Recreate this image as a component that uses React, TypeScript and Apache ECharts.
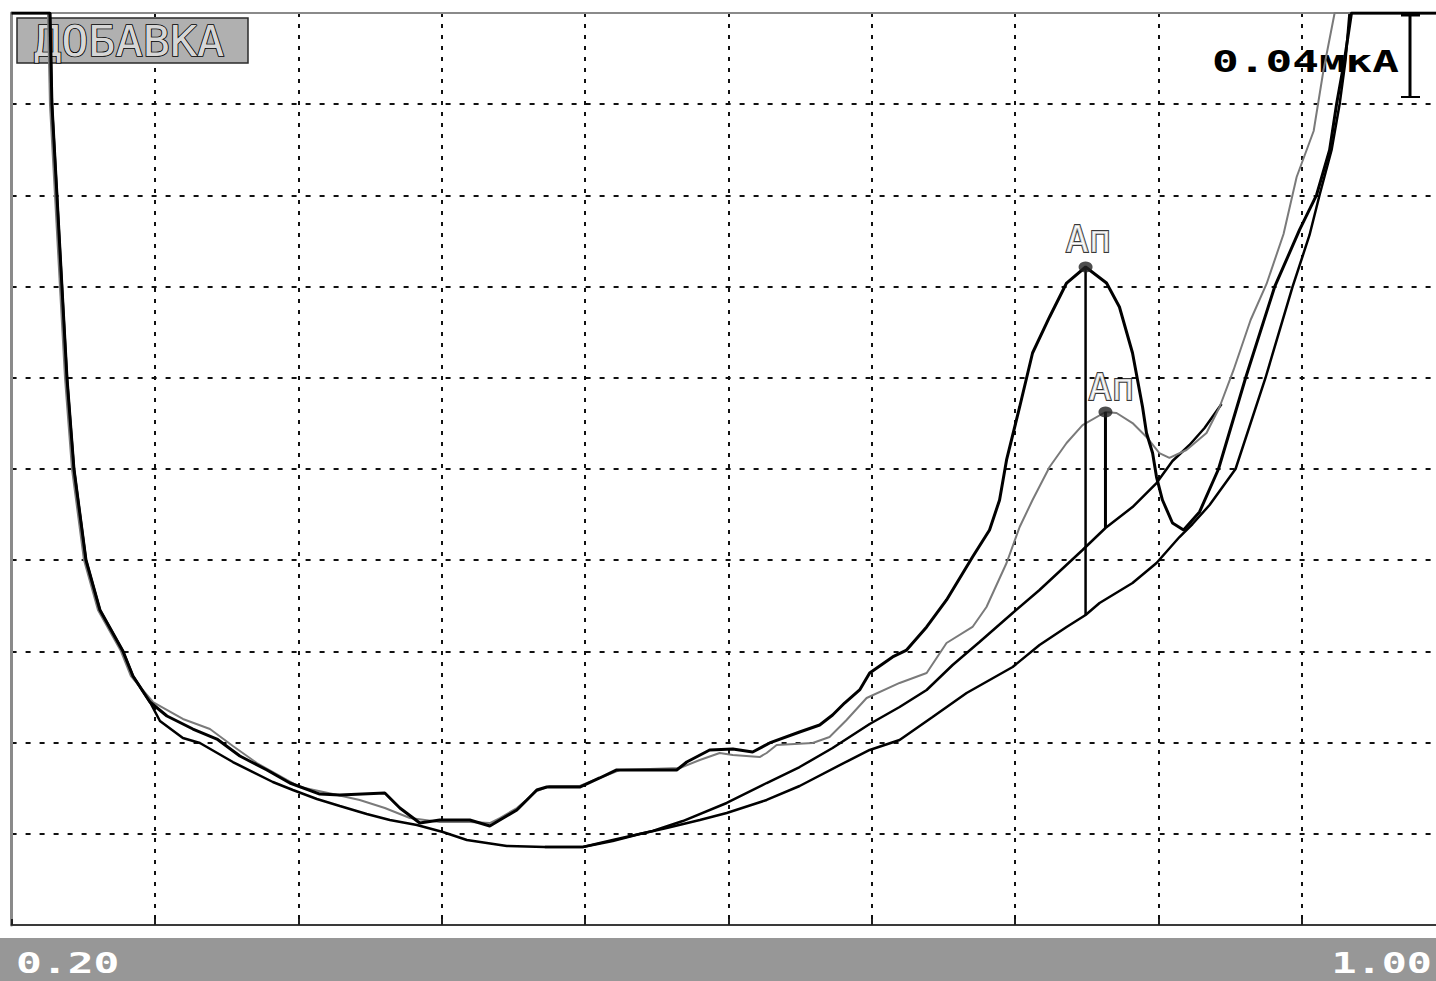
import React, { useEffect, useRef } from "react";
import * as echarts from "echarts";

// Potential axis (V) and current in grid divisions
const xRange = [0.2, 1.0];
const xTickLabels = ["0.20", "1.00"];
const scaleLabel = "0.04мкА";
const boxLabel = "ДОБАВКА";
const peakLabel = "Ап";

const curveA: [number, number][] = [
  [0.2, 10.0], [0.2214, 10.0], [0.2225, 9.002], [0.2253, 8.004], [0.2281, 6.996], [0.2309, 5.998],
  [0.2348, 5.0], [0.2415, 4.002], [0.2493, 3.454], [0.2621, 3.004], [0.2677, 2.73], [0.2772, 2.445],
  [0.2867, 2.292], [0.3012, 2.149], [0.3146, 2.039], [0.3274, 1.853], [0.3425, 1.7], [0.3553, 1.557],
  [0.372, 1.436], [0.3832, 1.425], [0.4083, 1.447], [0.4167, 1.283], [0.4278, 1.118], [0.439, 1.151],
  [0.4557, 1.151], [0.4669, 1.086], [0.4725, 1.151], [0.482, 1.261], [0.4876, 1.371], [0.4931, 1.48],
  [0.4987, 1.513], [0.5171, 1.513], [0.5282, 1.612], [0.5377, 1.7], [0.5712, 1.7], [0.5768, 1.787],
  [0.5896, 1.919], [0.6025, 1.93], [0.6136, 1.897], [0.6231, 1.996], [0.6398, 2.116], [0.651, 2.193],
  [0.6582, 2.303], [0.6649, 2.434], [0.6733, 2.577], [0.6789, 2.763], [0.6917, 2.939], [0.6995, 3.015],
  [0.7107, 3.268], [0.7218, 3.564], [0.7363, 4.035], [0.7458, 4.331], [0.7514, 4.66], [0.7553, 5.099],
  [0.7626, 5.68], [0.7698, 6.272], [0.7793, 6.667], [0.7888, 7.039], [0.7994, 7.215], [0.8111, 7.039],
  [0.8183, 6.776], [0.8256, 6.272], [0.8312, 5.68], [0.8334, 5.395], [0.8368, 5.175], [0.839, 4.912],
  [0.8423, 4.66], [0.8479, 4.408], [0.8541, 4.331], [0.863, 4.529], [0.8736, 5.0], [0.8887, 5.998],
  [0.9049, 6.996], [0.9188, 7.621], [0.9283, 8.004], [0.9356, 8.498], [0.9395, 9.002], [0.9439, 9.485],
  [0.9478, 10.0], [1.0, 10.0],
];

const curveB: [number, number][] = [
  [0.2, 10.0], [0.2203, 10.0], [0.2214, 9.002], [0.2242, 8.004], [0.227, 6.996], [0.2298, 5.998],
  [0.2337, 5.0], [0.2404, 4.002], [0.2482, 3.454], [0.261, 3.004], [0.2666, 2.73], [0.2789, 2.445],
  [0.2956, 2.259], [0.3107, 2.149], [0.3235, 1.963], [0.3369, 1.776], [0.3536, 1.59], [0.3609, 1.513],
  [0.3793, 1.436], [0.3943, 1.371], [0.4083, 1.283], [0.4223, 1.173], [0.439, 1.129], [0.4557, 1.129],
  [0.4669, 1.118], [0.4725, 1.173], [0.482, 1.283], [0.4931, 1.469], [0.5003, 1.524], [0.5171, 1.524],
  [0.5282, 1.612], [0.5394, 1.7], [0.5729, 1.721], [0.5841, 1.809], [0.5952, 1.886], [0.6025, 1.864],
  [0.6175, 1.842], [0.6214, 1.886], [0.627, 1.974], [0.6471, 1.996], [0.6565, 2.061], [0.666, 2.248],
  [0.6772, 2.489], [0.6956, 2.654], [0.7107, 2.763], [0.7218, 3.092], [0.7363, 3.268], [0.7441, 3.487],
  [0.7553, 3.969], [0.7626, 4.364], [0.7698, 4.66], [0.7793, 5.022], [0.7888, 5.285], [0.7977, 5.482],
  [0.8105, 5.625], [0.8167, 5.614], [0.8256, 5.504], [0.8334, 5.351], [0.8406, 5.175], [0.8462, 5.121],
  [0.8557, 5.208], [0.8669, 5.395], [0.8742, 5.68], [0.882, 6.086], [0.8915, 6.634], [0.9004, 7.029],
  [0.9099, 7.577], [0.9172, 8.202], [0.9267, 8.706], [0.9322, 9.375], [0.9384, 10.0], [1.0, 10.0],
];

const baseC: [number, number][] = [
  [0.4976, 0.855], [0.5188, 0.855], [0.5355, 0.932], [0.5578, 1.031], [0.5746, 1.14], [0.5991, 1.338],
  [0.6214, 1.557], [0.6398, 1.732], [0.6582, 1.941], [0.6789, 2.204], [0.6956, 2.39], [0.7107, 2.577],
  [0.7252, 2.851], [0.7402, 3.103], [0.7587, 3.421], [0.7737, 3.673], [0.7977, 4.112], [0.8105, 4.353],
  [0.8256, 4.583], [0.839, 4.846], [0.8479, 5.088], [0.8574, 5.263], [0.8658, 5.45], [0.8753, 5.713],
];

const baseD: [number, number][] = [
  [0.2, 10.0], [0.2214, 10.0], [0.2225, 9.002], [0.2253, 8.004], [0.2281, 6.996], [0.2309, 5.998],
  [0.2348, 5.0], [0.2415, 4.002], [0.2493, 3.454], [0.2621, 3.004], [0.2677, 2.73], [0.2772, 2.445],
  [0.2828, 2.237], [0.2956, 2.05], [0.3051, 1.996], [0.3235, 1.787], [0.3458, 1.568], [0.357, 1.48],
  [0.3704, 1.382], [0.3832, 1.305], [0.3982, 1.217], [0.4111, 1.151], [0.4262, 1.096], [0.4407, 1.02],
  [0.4541, 0.932], [0.4764, 0.866], [0.4976, 0.855], [0.5188, 0.855], [0.5355, 0.921], [0.5506, 0.998],
  [0.5656, 1.064], [0.5841, 1.151], [0.5991, 1.228], [0.6214, 1.371], [0.6398, 1.524], [0.6677, 1.809],
  [0.6789, 1.919], [0.6956, 2.029], [0.714, 2.281], [0.733, 2.544], [0.7587, 2.829], [0.7737, 3.07],
  [0.7888, 3.268], [0.7994, 3.399], [0.8072, 3.531], [0.8256, 3.75], [0.839, 3.969], [0.8518, 4.254],
  [0.8591, 4.397], [0.8686, 4.605], [0.8831, 5.0], [0.8998, 5.998], [0.9149, 6.996], [0.9244, 7.566],
  [0.93, 8.004], [0.9367, 8.498], [0.9412, 9.002], [0.9445, 9.485], [0.9467, 10.0], [1.0, 10.0],
];

const peakA: [number, number] = [0.7994, 7.215];
const peakAFoot = 3.399;
const peakB: [number, number] = [0.8105, 5.625];
const peakBFoot = 4.353;

const MONO = "'DejaVu Sans Mono', monospace";

export default function App() {
  const ref = useRef<HTMLDivElement>(null);
  useEffect(() => {
    if (!ref.current) return;
    const chart = echarts.init(ref.current, null, { renderer: "svg" });
    const option: any = {
      animation: false,
      backgroundColor: "#ffffff",
      grid: { left: 11.6, top: 13, width: 1433.4, height: 912, containLabel: false },
      xAxis: [
        {
          type: "value", min: xRange[0], max: xRange[1], position: "top",
          axisLine: { show: true, onZero: false, lineStyle: { color: "#8a8a8a", width: 2 } },
          axisTick: { show: false }, axisLabel: { show: false }, splitLine: { show: false },
        },
        {
          type: "value", min: 0, max: 10, interval: 1, position: "bottom",
          axisLine: { show: true, onZero: false, lineStyle: { color: "#3a3a3a", width: 2 } },
          axisTick: { show: true, inside: true, length: 6, lineStyle: { color: "#222", width: 2 } },
          axisLabel: { show: false },
          splitLine: { show: true, showMinLine: false, showMaxLine: false, lineStyle: { color: "#111", width: 2, type: [4, 7] } },
        },
      ],
      yAxis: [
        {
          type: "value", min: 0, max: 10, interval: 1,
          axisLine: { show: true, onZero: false, lineStyle: { color: "#8a8a8a", width: 3 } },
          axisTick: { show: false }, axisLabel: { show: false },
          splitLine: { show: true, showMinLine: false, showMaxLine: false, lineStyle: { color: "#111", width: 2, type: [5, 9] } },
        },
      ],
      series: [
        { type: "line", z: 3, xAxisIndex: 0, data: baseD, showSymbol: false, lineStyle: { color: "#000", width: 2.5 } },
        { type: "line", z: 3, xAxisIndex: 0, data: baseC, showSymbol: false, lineStyle: { color: "#000", width: 2.5 } },
        { type: "line", z: 4, xAxisIndex: 0, data: curveB, showSymbol: false, lineStyle: { color: "#7a7a7a", width: 2 } },
        { type: "line", z: 5, xAxisIndex: 0, data: curveA, showSymbol: false, lineStyle: { color: "#000", width: 3 } },
        { type: "line", z: 5, xAxisIndex: 0, data: [[peakA[0], peakA[1]], [peakA[0], peakAFoot]], showSymbol: false, lineStyle: { color: "#000", width: 2.5 } },
        { type: "line", z: 5, xAxisIndex: 0, data: [[peakB[0], peakB[1]], [peakB[0], peakBFoot]], showSymbol: false, lineStyle: { color: "#000", width: 3 } },
        {
          type: "scatter", z: 6, xAxisIndex: 0, symbol: "circle", symbolSize: [14, 11],
          itemStyle: { color: "#222" },
          data: [
            { value: peakA, label: { show: true, formatter: peakLabel, position: "top", distance: 3, offset: [3, 0] } },
            { value: peakB, label: { show: true, formatter: peakLabel, position: "top", distance: 1, offset: [6, 0] } },
          ],
          label: {
            fontFamily: MONO, fontSize: 38, color: "#ffffff",
            textBorderColor: "#000", textBorderWidth: 2,
          },
        },
      ],
      graphic: [
        {
          type: "rect", z: 1, shape: { x: 17, y: 18, width: 231, height: 45 },
          style: { fill: "#b0b0b0", stroke: "#2a2a2a", lineWidth: 1.5 },
        },
        {
          type: "text", z: 2, x: 34, y: 41, scaleX: 1.05,
          style: {
            text: boxLabel, font: `normal 43px ${MONO}`, fill: "#d6d6d6", stroke: "#000", lineWidth: 1.6,
            textAlign: "left", textVerticalAlign: "middle",
          },
        },
        {
          type: "text", z: 2, x: 1212, y: 62, scaleX: 1.48,
          style: {
            text: scaleLabel, font: `bold 30px ${MONO}`, fill: "#000",
            textAlign: "left", textVerticalAlign: "middle",
          },
        },
        { type: "line", z: 7, shape: { x1: 1410, y1: 15, x2: 1410, y2: 97 }, style: { stroke: "#000", lineWidth: 3 } },
        { type: "line", z: 7, shape: { x1: 1401, y1: 15, x2: 1420, y2: 15 }, style: { stroke: "#000", lineWidth: 3 } },
        { type: "line", z: 7, shape: { x1: 1401, y1: 97, x2: 1420, y2: 97 }, style: { stroke: "#000", lineWidth: 2 } },
        {
          type: "rect", z: 1, shape: { x: 0, y: 938, width: 1460, height: 43 },
          style: { fill: "#979797" },
        },
        {
          type: "text", z: 2, x: 16, y: 963, scaleX: 1.48,
          style: {
            text: xTickLabels[0], font: `bold 29px ${MONO}`, fill: "#ffffff",
            textAlign: "left", textVerticalAlign: "middle",
          },
        },
        {
          type: "text", z: 2, x: 1432, y: 963, scaleX: 1.44,
          style: {
            text: xTickLabels[1], font: `bold 29px ${MONO}`, fill: "#ffffff",
            textAlign: "right", textVerticalAlign: "middle",
          },
        },
      ],
    };
    chart.setOption(option);
    return () => chart.dispose();
  }, []);
  return (
    <div style={{ position: "fixed", left: 0, top: 0, width: 1436, height: 981, overflow: "hidden", background: "#fff" }}>
      <div ref={ref} style={{ width: 1460, height: 981 }} />
    </div>
  );
}
